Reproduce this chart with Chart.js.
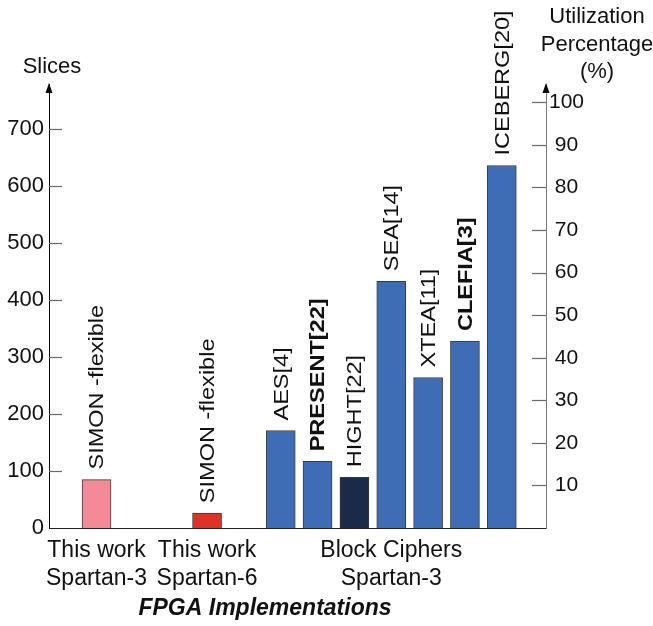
<!DOCTYPE html>
<html><head><meta charset="utf-8">
<script src="https://cdn.jsdelivr.net/npm/chart.js@4/dist/chart.umd.min.js"></script>
<style>html,body{margin:0;padding:0;background:#fff;} #wrap{width:653px;height:626px;}</style>
</head><body><div id="wrap"><canvas id="c" width="653" height="626"></canvas></div>
<script>
// ---- data ----
const categories = ['SIMON -flexible', '', '', 'SIMON -flexible', '', 'AES[4]', 'PRESENT[22]', 'HIGHT[22]', 'SEA[14]', 'XTEA[11]', 'CLEFIA[3]', 'ICEBERG[20]'];
const slices = [85, null, null, 26, null, 171, 117, 89, 433, 264, 328, 636];
const groups = [['This work', 'Spartan-3'], ['This work', 'Spartan-6'], ['Block Ciphers', 'Spartan-3']];
const groupOf = [0, null, null, 1, null, 2, 2, 2, 2, 2, 2, 2];
const sliceTicks = [0, 100, 200, 300, 400, 500, 600, 700];
const percentTicks = [10, 20, 30, 40, 50, 60, 70, 80, 90, 100];
const leftTitle = 'Slices';
const rightTitle = ['Utilization', 'Percentage', '(%)'];
const xTitle = 'FPGA Implementations';

// ---- style ----
const FONT = '"Liberation Sans", Arial, sans-serif';
const BLUE = '#3E6DB5';
const barColors = ['#F48A97', null, null, '#DC3326', null, BLUE, BLUE, '#1B2A48', BLUE, BLUE, BLUE, BLUE];
const boldLabels = ['PRESENT[22]', 'CLEFIA[3]'];

const pts = [], cols = [], labs = [];
slices.forEach((v, i) => {
  if (v === null) return;
  pts.push({x: i, y: v});
  cols.push(barColors[i]);
  labs.push(categories[i]);
});

const groupCentres = groups.map((g, gi) => {
  const idx = groupOf.map((g2, i) => g2 === gi ? i : null).filter(v => v !== null);
  return idx.reduce((a, b) => a + b, 0) / idx.length;
});

const decor = {
  id: 'decor',
  afterDatasetsDraw(chart) {
    const ctx = chart.ctx;
    const meta = chart.getDatasetMeta(0);
    meta.data.forEach((bar, i) => {
      const lab = labs[i];
      ctx.save();
      ctx.translate(bar.x + 1, bar.y - 10);
      ctx.rotate(-Math.PI / 2);
      ctx.scale(1.12, 1);
      ctx.font = (boldLabels.includes(lab) ? 'bold ' : '') + '21px ' + FONT;
      ctx.fillStyle = '#111';
      ctx.textAlign = 'left';
      ctx.textBaseline = 'middle';
      ctx.fillText(lab, 0, 0);
      ctx.restore();
    });
  },
  afterDraw(chart) {
    const ctx = chart.ctx;
    const yL = chart.scales.y, yR = chart.scales.y2;
    const a = chart.chartArea;
    ctx.save();
    ctx.strokeStyle = '#6a6a6a';
    ctx.lineWidth = 1.2;
    sliceTicks.forEach(v => {
      if (v === 0) return;
      const p = Math.round(yL.getPixelForValue(v)) + 0.5;
      ctx.beginPath(); ctx.moveTo(a.left, p); ctx.lineTo(a.left + 13, p); ctx.stroke();
    });
    percentTicks.forEach(v => {
      const p = Math.round(yR.getPixelForValue(v)) + 0.5;
      ctx.beginPath(); ctx.moveTo(a.right - 14, p); ctx.lineTo(a.right, p); ctx.stroke();
    });
    // arrows
    ctx.fillStyle = '#000';
    [a.left, a.right].forEach(x => {
      ctx.beginPath();
      ctx.moveTo(x, a.top - 1);
      ctx.lineTo(x - 3.5, a.top + 9);
      ctx.lineTo(x + 3.5, a.top + 9);
      ctx.closePath(); ctx.fill();
    });
    // titles
    ctx.fillStyle = '#111';
    ctx.textAlign = 'center';
    ctx.textBaseline = 'middle';
    ctx.font = '22px ' + FONT;
    ctx.fillText(leftTitle, 52, 67);
    rightTitle.forEach((t, i) => ctx.fillText(t, 597, 17 + i * 27.5));
    ctx.font = 'italic bold 23px ' + FONT;
    ctx.fillText(xTitle, 265, 609);
    ctx.restore();
  }
};

new Chart(document.getElementById('c'), {
  type: 'bar',
  data: {
    datasets: [{
      data: pts,
      yAxisID: 'y',
      backgroundColor: cols,
      borderColor: '#3a3a3a',
      borderWidth: 1,
      barThickness: 29
    }]
  },
  options: {
    responsive: false,
    animation: false,
    devicePixelRatio: 1,
    layout: {padding: {left: 0, right: 0, top: 84, bottom: 0}},
    plugins: {legend: {display: false}, tooltip: {enabled: false}, title: {display: false}},
    scales: {
      x: {
        type: 'linear', min: -1.29, max: 12.2, offset: false,
        afterBuildTicks: s => { s.ticks = groupCentres.map(v => ({value: v})); },
        afterFit: s => { s.height = 98; },
        grid: {display: false, drawTicks: false, offset: false},
        border: {display: true, color: '#222', width: 1},
        ticks: {
          autoSkip: false, maxRotation: 0, padding: 8,
          color: '#111',
          font: {family: FONT, size: 23, lineHeight: 1.25},
          callback: v => { const gi = groupCentres.findIndex(c => Math.abs(c - v) < 1e-6); return gi >= 0 ? groups[gi] : ''; }
        }
      },
      y: {
        position: 'left', min: 0, max: 779,
        afterBuildTicks: s => { s.ticks = sliceTicks.map(v => ({value: v})); },
        afterFit: s => { s.width = 49; },
        grid: {display: false, drawTicks: false},
        border: {display: true, color: '#000', width: 1},
        ticks: {padding: 5, color: '#111', font: {family: FONT, size: 22}}
      },
      y2: {
        position: 'right', min: 0, max: 104.3,
        afterBuildTicks: s => { s.ticks = percentTicks.map(v => ({value: v})); },
        afterFit: s => { s.width = 107; },
        grid: {display: false, drawTicks: false},
        border: {display: true, color: '#7a7a7a', width: 1},
        ticks: {padding: 3, crossAlign: 'center', color: '#111', font: {family: FONT, size: 21}}
      }
    }
  },
  plugins: [decor]
});
</script>
</body></html>
